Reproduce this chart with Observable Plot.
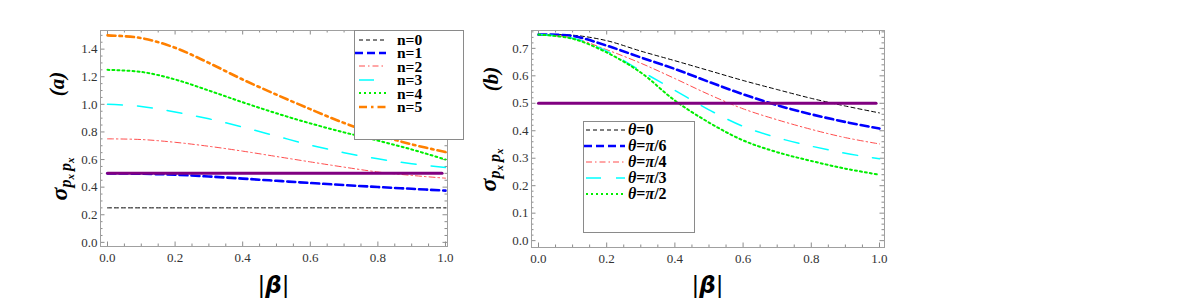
<!DOCTYPE html>
<html>
<head>
<meta charset="utf-8">
<script src="https://cdn.jsdelivr.net/npm/d3@7"></script>
<script src="https://cdn.jsdelivr.net/npm/@observablehq/plot@0.6"></script>
<style>
  html, body { margin: 0; padding: 0; background: #fff; }
  #wrap { position: relative; width: 1199px; height: 302px; overflow: hidden; }
  .panel { position: absolute; top: 0; overflow: visible; }
  .legend { position: absolute; box-sizing: border-box; border: 1px solid #8a8a8a; background: #fff;
            font-family: "Liberation Serif", "Times New Roman", "DejaVu Serif", serif; font-weight: bold; color: #000; }
  .row { display: flex; align-items: center; white-space: nowrap; }
  .row svg { flex: none; }
</style>
</head>
<body>
<div id="wrap"></div>
<script>
// ---------------- data ----------------
const beta = [0, 0.1, 0.2, 0.3, 0.4, 0.5, 0.6, 0.7, 0.8, 0.9, 1.0];

// panel (a): number states n = 0..5
const nLabels = ["n=0", "n=1", "n=2", "n=3", "n=4", "n=5"];
const n0 = [0.25, 0.25, 0.25, 0.25, 0.25, 0.25, 0.25, 0.25, 0.25, 0.25, 0.25];
const n1 = [0.5, 0.497, 0.49, 0.477, 0.462, 0.446, 0.43, 0.415, 0.401, 0.388, 0.375];
const n2 = [0.75, 0.745, 0.725, 0.696, 0.661, 0.622, 0.583, 0.545, 0.51, 0.485, 0.465];
const n3 = [1.0, 0.985, 0.945, 0.895, 0.835, 0.77, 0.705, 0.65, 0.605, 0.57, 0.543];
const n4 = [1.25, 1.235, 1.18, 1.1, 1.015, 0.935, 0.862, 0.797, 0.737, 0.673, 0.6];
const n5 = [1.5, 1.48, 1.41, 1.3, 1.18, 1.07, 0.965, 0.865, 0.78, 0.71, 0.655];

// panel (b): angle theta
const thLabels = ["0", "π/6", "π/4", "π/3", "π/2"];
const th0 = [0.75, 0.748, 0.728, 0.69, 0.655, 0.619, 0.583, 0.55, 0.518, 0.49, 0.465];
const th6 = [0.75, 0.745, 0.71, 0.667, 0.625, 0.578, 0.533, 0.493, 0.46, 0.432, 0.408];
const th4 = [0.75, 0.738, 0.695, 0.646, 0.59, 0.532, 0.48, 0.44, 0.405, 0.375, 0.352];
const th3 = [0.75, 0.737, 0.69, 0.618, 0.547, 0.476, 0.416, 0.375, 0.344, 0.318, 0.298];
const th2 = [0.75, 0.735, 0.685, 0.612, 0.51, 0.43, 0.365, 0.322, 0.29, 0.262, 0.24];

const refLevel = 0.5; // purple reference line

// tick values
const xMajor = [0, 0.2, 0.4, 0.6, 0.8, 1.0];
const xMinor = [0.05,0.1,0.15,0.25,0.3,0.35,0.45,0.5,0.55,0.65,0.7,0.75,0.85,0.9,0.95];
const yMajorA = [0, 0.2, 0.4, 0.6, 0.8, 1.0, 1.2, 1.4];
const yMinorA = [0.05,0.1,0.15,0.25,0.3,0.35,0.45,0.5,0.55,0.65,0.7,0.75,0.85,0.9,0.95,1.05,1.1,1.15,1.25,1.3,1.35,1.45,1.5];
const yMajorB = [0, 0.1, 0.2, 0.3, 0.4, 0.5, 0.6, 0.7];
const yMinorB = [0.02,0.04,0.06,0.08,0.12,0.14,0.16,0.18,0.22,0.24,0.26,0.28,0.32,0.34,0.36,0.38,0.42,0.44,0.46,0.48,0.52,0.54,0.56,0.58,0.62,0.64,0.66,0.68,0.72,0.74,0.76];

// ---------------- styles ----------------
const SERIF = "'Liberation Serif', 'Times New Roman', 'DejaVu Serif', serif";
const styles = [
  {stroke: "#000000", strokeWidth: 1,   dash: "4,3"},
  {stroke: "#0000ff", strokeWidth: 2.6, dash: "8,4"},
  {stroke: "#ff4d4d", strokeWidth: 1,   dash: "6,3,1.5,3"},
  {stroke: "#00ffff", strokeWidth: 1.5, dash: "15,15"},
  {stroke: "#00ee00", strokeWidth: 2,   dash: "2,3"},
  {stroke: "#ff8000", strokeWidth: 2.6, dash: "8,4,2.5,4"}
];
const tickColor = "#8c8c8c";

function series(vals) { return beta.map((b, i) => ({b, v: vals[i]})); }

function makePanel(cfg) {
  const {width, mL, mR, mT, mB, xDom, yDom, seriesList, yMajor, yMinor} = cfg;
  const H = 302;
  const kx = (width - mL - mR) / (xDom[1] - xDom[0]);
  const ky = (H - mT - mB) / (yDom[1] - yDom[0]);
  const Lmaj = 4.5, Lmin = 2.5;
  const marks = [];
  const tx = (vals, L) => [
    Plot.ruleX(vals, {x: d => d, y1: yDom[0], y2: yDom[0] + L / ky, stroke: tickColor, strokeWidth: 1}),
    Plot.ruleX(vals, {x: d => d, y1: yDom[1], y2: yDom[1] - L / ky, stroke: tickColor, strokeWidth: 1})
  ];
  const ty = (vals, L) => [
    Plot.ruleY(vals, {y: d => d, x1: xDom[0], x2: xDom[0] + L / kx, stroke: tickColor, strokeWidth: 1}),
    Plot.ruleY(vals, {y: d => d, x1: xDom[1], x2: xDom[1] - L / kx, stroke: tickColor, strokeWidth: 1})
  ];
  marks.push(...tx(xMajor, Lmaj), ...tx(xMinor, Lmin), ...ty(yMajor, Lmaj), ...ty(yMinor, Lmin));
  seriesList.forEach((vals, i) => {
    const s = styles[i];
    marks.push(Plot.line(series(vals), {x: "b", y: "v", stroke: s.stroke, strokeWidth: s.strokeWidth,
      strokeDasharray: s.dash, curve: "catmull-rom"}));
  });
  marks.push(Plot.line([{b: 0, v: refLevel}, {b: 0.99, v: refLevel}], {x: "b", y: "v", stroke: "#800080", strokeWidth: 3}));
  marks.push(Plot.frame({stroke: "#a0a0a0", strokeWidth: 1}));
  marks.push(Plot.axisX({ticks: xMajor, tickSize: 0, tickPadding: 6, tickFormat: d => d.toFixed(1), label: null, fill: "#333"}));
  marks.push(Plot.axisY({ticks: yMajor, tickSize: 0, tickPadding: 3, tickFormat: d => d.toFixed(1), label: null, fill: "#333"}));
  return Plot.plot({
    width, height: H,
    marginLeft: mL, marginRight: mR, marginTop: mT, marginBottom: mB,
    x: {domain: xDom}, y: {domain: yDom},
    style: {fontFamily: SERIF, fontSize: "13px", background: "transparent", overflow: "visible"},
    marks
  });
}

function addLabels(svg, o) {
  const s = d3.select(svg);
  s.append("text").attr("transform", `translate(${o.tagX},${o.tagY}) rotate(-90)`)
    .attr("text-anchor", "middle").style("font-family", SERIF)
    .attr("font-weight", "bold").attr("font-style", "italic").attr("font-size", 21).attr("fill", "#000")
    .text(o.tag);
  const t = s.append("text").attr("transform", `translate(${o.yX},${o.yY}) rotate(-90)`)
    .attr("text-anchor", "middle").style("font-family", SERIF)
    .attr("font-weight", "bold").attr("font-style", "italic").attr("fill", "#000");
  t.append("tspan").attr("font-size", 24).text("σ");
  t.append("tspan").attr("font-size", 16).attr("dy", 4).text("p");
  t.append("tspan").attr("font-size", 11).attr("dy", 3).text("x");
  t.append("tspan").attr("font-size", 16).attr("dy", -3).attr("dx", 3).text("p");
  t.append("tspan").attr("font-size", 11).attr("dy", 3).text("x");
  const xl = s.append("text").attr("x", o.xX).attr("y", 293).attr("text-anchor", "middle")
    .style("font-family", "'DejaVu Sans', sans-serif").attr("font-size", 23).attr("fill", "#000");
  xl.append("tspan").text("|");
  xl.append("tspan").attr("font-style", "italic").attr("font-weight", "bold").text("β");
  xl.append("tspan").text("|");
}

function legend(parent, o) {
  const div = document.createElement("div");
  div.className = "legend";
  Object.assign(div.style, {left: o.left + "px", top: o.top + "px", width: o.w + "px", height: o.h + "px",
    paddingTop: o.padTop + "px", fontSize: o.fontSize + "px", lineHeight: o.rowH + "px"});
  o.items.forEach((it, i) => {
    const s = styles[i];
    const row = document.createElement("div");
    row.className = "row";
    row.style.height = o.rowH + "px";
    const ns = "http://www.w3.org/2000/svg";
    const sv = document.createElementNS(ns, "svg");
    sv.setAttribute("width", o.sampleW + o.sampleX);
    sv.setAttribute("height", 8);
    const ln = document.createElementNS(ns, "line");
    ln.setAttribute("x1", i === 1 ? 0 : o.sampleX); ln.setAttribute("x2", o.sampleX + o.sampleW);
    ln.setAttribute("y1", 4); ln.setAttribute("y2", 4);
    ln.setAttribute("stroke", s.stroke); ln.setAttribute("stroke-width", s.strokeWidth);
    ln.setAttribute("stroke-dasharray", s.dash);
    sv.appendChild(ln);
    row.appendChild(sv);
    const tx = document.createElement("span");
    tx.style.marginLeft = o.gap + "px";
    tx.innerHTML = it;
    row.appendChild(tx);
    div.appendChild(row);
  });
  parent.appendChild(div);
}

const wrap = document.getElementById("wrap");

const pa = makePanel({width: 480, mL: 100, mR: 33, mT: 30, mB: 56,
  xDom: [-0.0207, 1.006], yDom: [-0.03, 1.535],
  seriesList: [n0, n1, n2, n3, n4, n5], yMajor: yMajorA, yMinor: yMinorA});
pa.classList.add("panel"); pa.style.left = "0px";
addLabels(pa, {tag: "(a)", tagX: 64, tagY: 84, yX: 67, yY: 179, xX: 273.5});
wrap.appendChild(pa);

const pb = makePanel({width: 420, mL: 51, mR: 16, mT: 30, mB: 55,
  xDom: [-0.0205, 1.0147], yDom: [-0.025, 0.765],
  seriesList: [th0, th6, th4, th3, th2], yMajor: yMajorB, yMinor: yMinorB});
pb.classList.add("panel"); pb.style.left = "480px";
addLabels(pb, {tag: "(b)", tagX: 18, tagY: 79, yX: 16, yY: 170, xX: 227.5});
wrap.appendChild(pb);

legend(wrap, {left: 354, top: 30, w: 110, h: 110, padTop: 2, rowH: 13.4, fontSize: 15.5,
  sampleX: 4, sampleW: 27, gap: 11, items: nLabels});
legend(wrap, {left: 583, top: 121, w: 112, h: 112, padTop: 0, rowH: 16, fontSize: 16,
  sampleX: 2, sampleW: 39, gap: 3, items: thLabels.map(t => "<i>θ</i>=" + (t === "0" ? "0" : "<i>π</i>" + t.slice(1)))});
</script>
</body>
</html>
